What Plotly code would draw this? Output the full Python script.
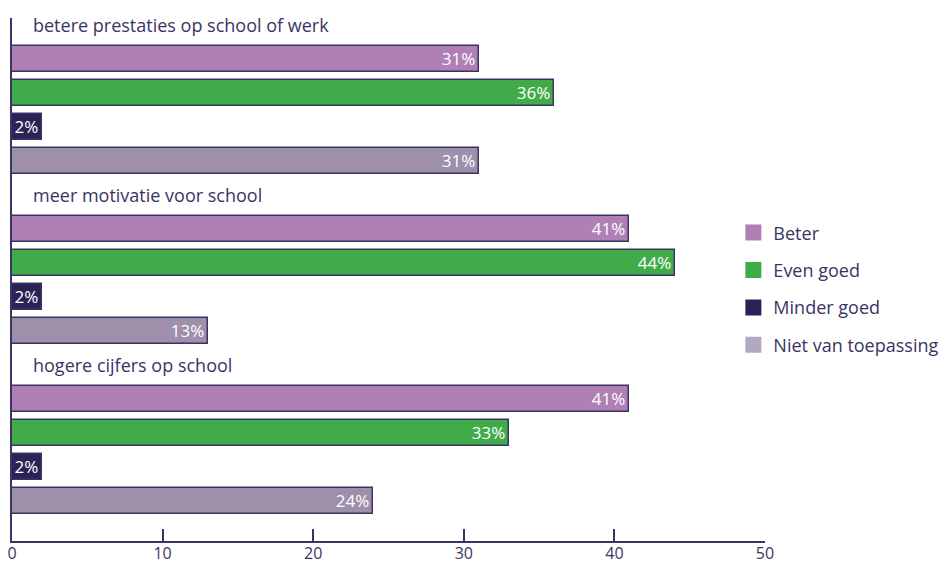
import plotly.graph_objects as go

# Survey outcome per statement, percentages per answer category
groups = ["betere prestaties op school of werk",
          "meer motivatie voor school",
          "hogere cijfers op school"]
categories = ["Beter", "Even goed", "Minder goed", "Niet van toepassing"]
beter = [31, 41, 41]
even_goed = [36, 44, 33]
minder_goed = [2, 2, 2]
niet_van_toepassing = [31, 13, 24]
x_ticks = [0, 10, 20, 30, 40, 50]

series = [beter, even_goed, minder_goed, niet_van_toepassing]
colors = ["#B07FB4", "#41AB4A", "#2A2456", "#9E8FAB"]
legend_colors = ["#B07FB4", "#41AB4A", "#2A2456", "#B2A8C0"]
ink = "#3A3466"
font_family = "Open Sans, Noto Sans, sans-serif"

# Each statement occupies five rows: a heading row followed by one row per category
rows_per_group = len(categories) + 1

fig = go.Figure()
for k, (name, vals, col) in enumerate(zip(categories, series, colors)):
    ys = [g * rows_per_group + k + 1 for g in range(len(groups))]
    fig.add_trace(go.Bar(
        x=vals, y=ys, orientation="h", name=name,
        marker=dict(color=col, line=dict(color=ink, width=1.5)),
        width=0.76,
        text=[f"{v}%" for v in vals],
        textposition="inside", insidetextanchor="end",
        textfont=dict(color="white", size=17, family=font_family),
        constraintext="none", cliponaxis=False,
        showlegend=False, hoverinfo="skip",
    ))

# Legend entries with large square swatches
for name, col in zip(categories, legend_colors):
    fig.add_trace(go.Scatter(
        x=[None], y=[None], mode="markers", name=name,
        marker=dict(symbol="square", size=19, color=col, line=dict(width=0)),
        legendgroup=name, showlegend=True,
    ))

for g, title in enumerate(groups):
    fig.add_annotation(
        x=0, y=g * rows_per_group, xref="x", yref="y",
        text=title, showarrow=False, xanchor="left", yanchor="middle",
        xshift=19, font=dict(size=18, color=ink, family=font_family),
    )

n_rows = len(groups) * rows_per_group
fig.update_layout(
    width=941, height=563,
    margin=dict(l=12, r=176, t=18, b=22, autoexpand=False),
    paper_bgcolor="white", plot_bgcolor="white",
    barmode="overlay", bargap=0,
    font=dict(family=font_family, color=ink),
    showlegend=True,
    legend=dict(
        x=0.958, xanchor="left", xref="paper", y=0.482, yanchor="middle",
        font=dict(size=18, color=ink, family=font_family),
        tracegroupgap=11, itemwidth=30, itemsizing="trace",
        bgcolor="rgba(0,0,0,0)",
    ),
    xaxis=dict(
        range=[0, 50], tickvals=x_ticks, showgrid=False, zeroline=False,
        showline=True, linecolor=ink, linewidth=1.5,
        ticks="inside", ticklen=12, tickwidth=1.5, tickcolor=ink,
        tickfont=dict(size=16, color=ink), automargin=False,
        ticklabelstandoff=-3,
    ),
    yaxis=dict(
        range=[n_rows + 0.18, -0.21], showgrid=False, zeroline=False,
        showline=True, linecolor=ink, linewidth=1.5,
        showticklabels=False, ticks="", automargin=False,
    ),
)

fig.write_html("out.html")
